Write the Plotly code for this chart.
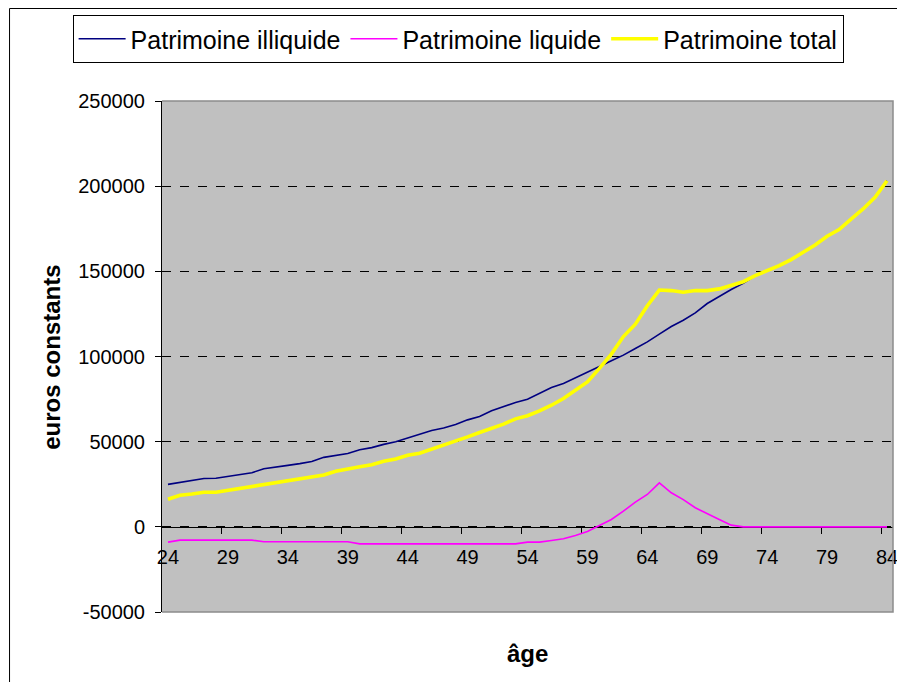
import plotly.graph_objects as go

ages = list(range(24, 85))

illiquide = [24950, 26100, 27300, 28400, 28500, 29600, 30600, 31800, 34100, 35300,
             36100, 37100, 38400, 40800, 41800, 43100, 45300, 46500, 48400, 50000,
             52100, 54300, 56600, 58000, 60100, 62800, 64800, 68100, 70600, 73000,
             74900, 78500, 81800, 84200, 87500, 90400, 94100, 97500, 100800, 104700,
             108600, 113100, 117600, 121300, 125600, 131100, 135400, 139300, 142900,
             147400, 150400, 153300, 156900, 161200, 165500, 170600, 174500, 180700,
             186600, 193500, 203200]

liquide = [-9000,
           -7800, -7800, -7800, -7800, -7800, -7800, -7800,
           -8800, -8800, -8800, -8800, -8800, -8800, -8800, -8800,
           -10000, -10000, -10000, -10000, -10000, -10000, -10000,
           -10000, -10000, -10000, -10000, -10000, -10000, -10000,
           -9000, -9000, -8000, -7000, -5100, -2700, 800, 4300, 9200, 14500,
           19000, 25800, 20000, 16000, 11200, 7600, 4300, 1000, 0,
           0, 0, 0, 0, 0, 0, 0, 0, 0, 0, 0, 0]

total = [16150, 18500, 19300, 20300, 20300, 21400, 22400, 23600, 24800, 25700,
         26700, 27700, 29100, 30400, 32600, 34200, 35300, 36500, 38500, 39800,
         42000, 43200, 45500, 47900, 50300, 52800, 55400, 57700, 60300, 63400,
         65200, 68100, 71400, 75300, 80400, 85100, 93000, 101400, 111700, 119000,
         129800, 139000, 138700, 137700, 138700, 138700, 139700, 141600, 143900,
         147500, 150400, 153300, 156900, 161200, 165500, 170600, 174500, 180700,
         186600, 193500, 203200]

x_tick_vals = list(range(24, 85, 5))
x_tick_text = [str(v) for v in x_tick_vals]
x_boundaries = [v - 0.5 for v in range(29, 85, 5)]
y_tick_vals = [-50000, 0, 50000, 100000, 150000, 200000, 250000]
y_tick_text = [str(v) for v in y_tick_vals]

FONT = "Liberation Sans, Arial, sans-serif"

fig = go.Figure()
fig.add_trace(go.Scatter(x=ages, y=illiquide, mode="lines", name="Patrimoine illiquide",
                         line=dict(color="#000080", width=1.6)))
fig.add_trace(go.Scatter(x=ages, y=liquide, mode="lines", name="Patrimoine liquide",
                         line=dict(color="#FF00FF", width=1.6)))
fig.add_trace(go.Scatter(x=ages, y=total, mode="lines", name="Patrimoine total",
                         line=dict(color="#FFFF00", width=3.6)))

# page has an 8px body margin; work in page coordinates
OFF = 8
W, H = 905 - OFF, 690 - 2 * OFF
PL, PR, PT, PB = 162, 898, 101, 612  # plot area in page pixels
L = PL - OFF
R = 905 - PR
T = PT - OFF
B = (OFF + H) - PB
pw, ph = PR - PL, PB - PT

def px(xp):
    return (xp - PL) / pw

def py(yp):
    return (PB - yp) / ph

fig.update_layout(
    width=W, height=H,
    margin=dict(l=L, r=R, t=T, b=B, pad=0),
    paper_bgcolor="white",
    plot_bgcolor="#C0C0C0",
    font=dict(family=FONT, size=20, color="black"),
    showlegend=True,
    legend=dict(orientation="h", x=px(72), xanchor="left", y=py(15), yanchor="top",
                bgcolor="white", bordercolor="black", borderwidth=1,
                font=dict(family=FONT, size=25, color="black"),
                itemwidth=47, tracegroupgap=0),
    xaxis=dict(range=[23.5, 84.5], anchor="free", position=1/6,
               tickmode="array", tickvals=x_tick_vals, ticktext=x_tick_text,
               ticks="", ticklabelstandoff=12,
               showgrid=False, zeroline=False,
               showline=True, linecolor="black", linewidth=1,
               layer="below traces",
               tickfont=dict(family=FONT, size=20, color="black"),
               minor=dict(tickmode="array", tickvals=x_boundaries, ticks="outside",
                          ticklen=6, tickcolor="black", tickwidth=1, showgrid=False)),
    yaxis=dict(range=[-50000, 250000], tickmode="array", tickvals=y_tick_vals,
               ticktext=y_tick_text, ticks="outside", ticklen=6, tickcolor="black",
               ticklabelstandoff=6,
               showgrid=True, gridcolor="black", griddash="dash", gridwidth=1,
               zeroline=False, showline=True, linecolor="black", linewidth=1,
               tickfont=dict(family=FONT, size=20, color="black")),
    shapes=[
        dict(type="path", xref="paper", yref="paper", path="M0,1 L1,1 L1,0 L0,0",
             line=dict(color="#8C8C8C", width=1.5), layer="above"),
        dict(type="rect", xref="paper", yref="paper",
             x0=px(OFF + 0.5), x1=px(940), y0=py(720), y1=py(OFF + 0.5),
             line=dict(color="black", width=1), fillcolor="rgba(0,0,0,0)", layer="above"),
    ],
    annotations=[
        dict(text="<b>euros constants</b>", xref="paper", yref="paper",
             x=px(50), y=py(357), xanchor="center", yanchor="middle", textangle=-90,
             showarrow=False, font=dict(family=FONT, size=24, color="black")),
        dict(text="<b>âge</b>", xref="paper", yref="paper",
             x=px(530), y=py(653), xanchor="center", yanchor="middle",
             showarrow=False, font=dict(family=FONT, size=24, color="black")),
    ],
)

fig.write_html("out.html")
